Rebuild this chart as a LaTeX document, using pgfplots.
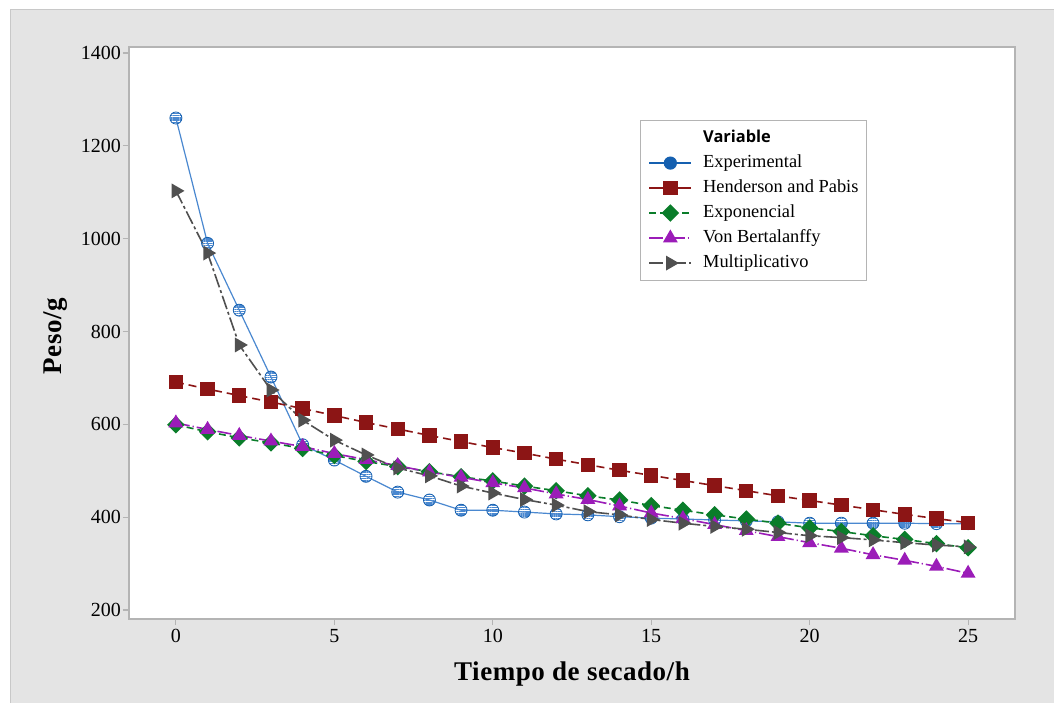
\documentclass[border=0pt]{standalone}
\usepackage{fontspec}
\setmainfont{Liberation Serif}
\newfontfamily\legendtitlefont{Open Sans}
\newfontfamily\axislabelfont[LetterSpace=2]{Liberation Serif}
\usepackage{pgfplots}
\usepackage{pgfplotstable}
\pgfplotsset{compat=1.18}
\usetikzlibrary{patterns.meta}

\definecolor{panelgray}{HTML}{E4E4E4}
\definecolor{panelline}{HTML}{C8C8C8}
\definecolor{framegray}{HTML}{B4B4B4}
\definecolor{expblue}{HTML}{1560B0}
\definecolor{exphatch}{HTML}{4A88D0}
\definecolor{explinec}{HTML}{4A88D0}
\definecolor{hpred}{HTML}{8C1515}
\definecolor{expgreen}{HTML}{0A7D2A}
\definecolor{vbpurple}{HTML}{9B1CB8}
\definecolor{multgray}{HTML}{505050}

% drying time (h) against weight (g): measured values and four fitted models
\pgfplotstableread{
t  exper  hp   expo  vb   mult
0  1260   691  599   603  1103
1  990    676  584   589  969
2  846    662  571   576  771
3  702    648  560   564  674
4  556    634  548   552  609
5  523    619  533   537  566
6  488    604  520   524  534
7  454    590  509   511  506
8  437    576  498   497  489
9  415    563  487   486  467
10 415    550  478   474  452
11 411    538  467   463  438
12 407    525  457   450  426
13 405    513  446   438  412
14 401    501  437   424  405
15 398    490  425   409  395
16 396    479  415   397  387
17 394    468  405   384  380
18 392    457  396   371  374
19 390    446  387   358  367
20 387    436  377   345  360
21 387    426  369   333  356
22 387    416  360   319  351
23 387    406  352   307  345
24 386    397  343   294  340
25 386    388  334   279  336
}\drydata

\begin{document}
\begin{tikzpicture}
\path[use as bounding box] (0,0) rectangle (527pt,351.5pt);
\fill[white] (0,0) rectangle (527pt,351.5pt);
\fill[panelgray] (5pt,0) rectangle (527pt,346.5pt);
\draw[panelline, line width=0.5pt] (5pt,0) -- (5pt,346.5pt) -- (527pt,346.5pt);
\begin{axis}[
  at={(64.5pt,42pt)}, anchor=south west,
  scale only axis, width=443pt, height=286pt,
  xmin=-1.48, xmax=26.48, ymin=180.6, ymax=1413,
  xtick={0,5,...,25}, ytick={200,400,...,1400},
  axis background/.style={fill=white},
  axis line style={draw=framegray, line width=0.6pt},
  tick style={draw=framegray, line width=0.6pt},
  major tick length=3pt, tick align=outside,
  xtick pos=bottom, ytick pos=left,
  ticklabel style={font=\fontsize{10}{12}\selectfont},
  yticklabel style={xshift=2.5pt},
  xticklabel style={yshift=1.5pt},
  /pgf/number format/assume math mode=true,
  /pgf/number format/set thousands separator={},
  xlabel={Tiempo de secado/h}, ylabel={Peso/g},
  label style={font=\axislabelfont\fontsize{13.5}{16}\selectfont\bfseries},
  xlabel style={at={(axis description cs:0.5,-0.0955)}, anchor=center},
  ylabel style={at={(axis description cs:-0.0824,0.4948)}, anchor=center},
  legend image code/.code={\draw[mark repeat=2,mark phase=2,#1] plot coordinates {(0pt,0pt) (10.5pt,0pt) (21pt,0pt)};},
  legend style={at={(axis description cs:0.5767,0.8724)}, anchor=north west,
    draw=framegray, line width=0.6pt, fill=white, inner xsep=4pt, inner ysep=2.5pt,
    font=\fontsize{9.2}{11}\selectfont,
    nodes={inner xsep=0pt, inner ysep=1.5pt, text height=7pt, text depth=2.5pt},
    /tikz/every odd column/.append style={column sep=5.5pt}},
  legend cell align=left,
]
% legend
\addlegendimage{empty legend}
\addlegendentry{\legendtitlefont\fontsize{8.2}{11}\selectfont\bfseries Variable}
\addlegendimage{draw=expblue, line width=0.6pt, mark=*, mark size=3pt, mark options={solid, fill=expblue, draw=expblue}}
\addlegendentry{Experimental}
\addlegendimage{draw=hpred, line width=0.8pt, mark=square*, mark size=3.2pt, mark options={solid, fill=hpred}}
\addlegendentry{Henderson and Pabis}
\addlegendimage{draw=expgreen, line width=0.8pt, dash pattern=on 3.5pt off 2pt, mark=square*, mark size=2.7pt, mark options={solid, rotate=45, fill=expgreen}}
\addlegendentry{Exponencial}
\addlegendimage{draw=vbpurple, line width=0.8pt, dash pattern=on 7pt off 1.5pt on 0.6pt off 1.5pt, mark=triangle*, mark size=3.5pt, mark options={solid, fill=vbpurple}}
\addlegendentry{Von Bertalanffy}
\addlegendimage{draw=multgray, line width=0.8pt, dash pattern=on 7pt off 1.5pt on 1.5pt off 1.5pt, mark=triangle*, mark size=3.5pt, mark options={solid, rotate=-90, fill=multgray}}
\addlegendentry{Multiplicativo}

% series
\addplot[forget plot, draw=explinec, line width=0.6pt, mark=*, mark size=3pt,
  mark options={solid, draw=expblue, line width=0.4pt, pattern={Lines[angle=0,distance=1.1pt,line width=0.7pt]}, pattern color=exphatch}]
  table[x=t, y=exper] {\drydata};
\addplot[forget plot, draw=hpred, line width=0.8pt, dash pattern=on 4pt off 2.5pt, mark=square*, mark size=3.2pt,
  mark options={solid, fill=hpred}]
  table[x=t, y=hp] {\drydata};
\addplot[forget plot, draw=expgreen, line width=0.8pt, dash pattern=on 3.5pt off 2pt, mark=square*, mark size=2.7pt,
  mark options={solid, rotate=45, fill=expgreen}]
  table[x=t, y=expo] {\drydata};
\addplot[forget plot, draw=vbpurple, line width=0.8pt, dash pattern=on 7pt off 1.5pt on 0.6pt off 1.5pt, mark=triangle*, mark size=3.5pt,
  mark options={solid, fill=vbpurple}]
  table[x=t, y=vb] {\drydata};
\addplot[forget plot, draw=multgray, line width=0.8pt, dash pattern=on 7pt off 1.5pt on 1.5pt off 1.5pt, mark=triangle*, mark size=3.5pt,
  mark options={solid, rotate=-90, fill=multgray}]
  table[x=t, y=mult] {\drydata};
\end{axis}
\end{tikzpicture}
\end{document}
